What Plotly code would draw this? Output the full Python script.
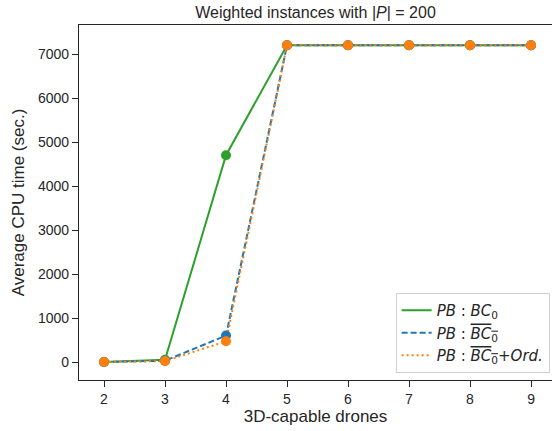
import plotly.graph_objects as go

drones = [2, 3, 4, 5, 6, 7, 8, 9]
pb_bc0 = [0, 50, 4700, 7200, 7200, 7200, 7200, 7200]
pb_bc0_bar = [0, 30, 600, 7200, 7200, 7200, 7200, 7200]
pb_bc0_bar_ord = [0, 20, 470, 7200, 7200, 7200, 7200, 7200]
yticks = [0, 1000, 2000, 3000, 4000, 5000, 6000, 7000]

GREEN, BLUE, ORANGE = "#2ca02c", "#1f77b4", "#ff7f0e"
OL = '<span style="text-decoration:overline">'

fig = go.Figure()
fig.add_trace(go.Scatter(x=drones, y=pb_bc0, mode="lines", line=dict(color=GREEN, width=2),
                         name="<i>PB</i> : <i>BC</i><sub>0</sub>"))
fig.add_trace(go.Scatter(x=drones, y=pb_bc0_bar, mode="lines", line=dict(color=BLUE, width=2, dash="6px,3px"),
                         name="<i>PB</i> : " + OL + "<i>BC</i><sub>0</sub></span>"))
fig.add_trace(go.Scatter(x=drones, y=pb_bc0_bar_ord, mode="lines", line=dict(color=ORANGE, width=2, dash="2px,3px"),
                         name="<i>PB</i> : " + OL + "<i>BC</i><sub>0</sub></span>+<i>Ord.</i>"))
for ys, c in [(pb_bc0, GREEN), (pb_bc0_bar, BLUE), (pb_bc0_bar_ord, ORANGE)]:
    fig.add_trace(go.Scatter(x=drones, y=ys, mode="markers", marker=dict(color=c, size=10),
                             showlegend=False, hoverinfo="skip"))

fig.update_layout(
    width=552, height=431,
    margin=dict(l=79, r=0, t=25, b=51, autoexpand=False),
    plot_bgcolor="white", paper_bgcolor="white",
    font=dict(family="Liberation Sans", size=14, color="#262626"),
    title=dict(text="Weighted instances with |<i>P</i>| = 200", x=0.5, xref="paper", xanchor="center",
               y=1 - 12 / 431, yref="container", yanchor="middle", font=dict(size=16)),
    showlegend=True,
    legend=dict(x=0.995, y=0.02, xanchor="right", yanchor="bottom",
                bordercolor="#d0d0d0", borderwidth=1, bgcolor="white",
                font=dict(family="DejaVu Sans", size=15), tracegroupgap=0),
)
fig.update_xaxes(range=[1.59, 9.344], tickvals=drones, ticks="outside", ticklen=6,
                 tickcolor="#262626", showline=True, linecolor="#262626", linewidth=1.3,
                 mirror=True, showgrid=False, zeroline=False, automargin=False,
                 title=dict(text="3D-capable drones", standoff=3, font=dict(size=17)))
fig.update_yaxes(range=[-409, 7659], tickvals=yticks, ticks="outside", ticklen=6,
                 tickcolor="#262626", showline=True, linecolor="#262626", linewidth=1.3,
                 mirror=False, showgrid=False, zeroline=False, automargin=False,
                 title=dict(text="Average CPU time (sec.)", standoff=8, font=dict(size=17)))

fig.write_html("out.html", config={"displayModeBar": False},
               post_script="document.body.style.margin='0';document.body.style.overflow='hidden';")
